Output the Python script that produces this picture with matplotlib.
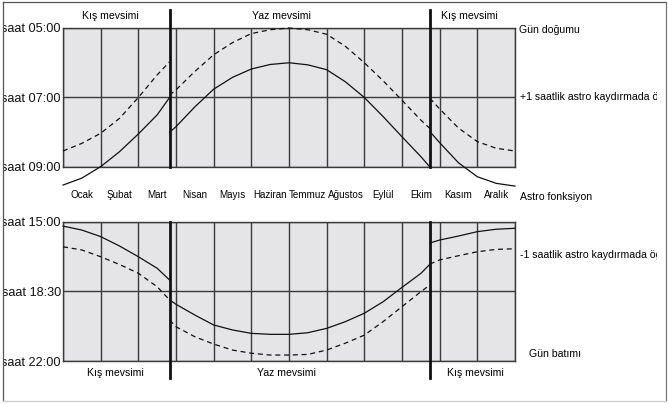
import numpy as np
import matplotlib
matplotlib.use('Agg')
import matplotlib.pyplot as plt
from matplotlib.lines import Line2D
from matplotlib.transforms import Bbox, TransformedBbox

plt.rcParams['font.family'] = ['Liberation Sans', 'DejaVu Sans']

# Aylar ve mevsim sinirlari (ay birimi: 0 = 1 Ocak, 12 = 31 Aralik)
months = ['Ocak', 'Şubat', 'Mart', 'Nisan', 'Mayıs', 'Haziran', 'Temmuz',
          'Ağustos', 'Eylül', 'Ekim', 'Kasım', 'Aralık']
season_edges = [2.83, 9.74]

x_winter1 = [0, 0.5, 1, 1.5, 2, 2.5, 2.83]
x_summer = [2.83, 3, 3.5, 4, 4.5, 5, 5.5, 6, 6.5, 7, 7.5, 8, 8.5, 9, 9.5, 9.74]
x_winter2 = [9.74, 10, 10.5, 11, 11.5, 12]

# Gun dogumu (saat), duz cizgi: astro fonksiyon, kesikli: +1 saat kaydirma
sunrise_astro_w1 = [9.52, 9.32, 8.99, 8.56, 8.05, 7.50, 7.0]
sunrise_astro_s = [8.0, 7.84, 7.27, 6.76, 6.42, 6.18, 6.05, 6.0, 6.06, 6.2,
                   6.55, 7.0, 7.55, 8.13, 8.7, 9.0]
sunrise_astro_w2 = [7.98, 8.3, 8.88, 9.28, 9.47, 9.55]
sunrise_shift_w1 = [8.54, 8.32, 8.03, 7.60, 7.0, 6.35, 5.97]
sunrise_shift_s = [6.93, 6.78, 6.25, 5.77, 5.42, 5.16, 5.05, 5.0, 5.05, 5.18,
                   5.53, 6.0, 6.52, 7.08, 7.65, 7.89]
sunrise_shift_w2 = [7.02, 7.33, 7.88, 8.27, 8.46, 8.54]

# Gun batimi (saat), duz cizgi: astro fonksiyon, kesikli: -1 saat kaydirma
sunset_astro_w1 = [15.22, 15.42, 15.75, 16.22, 16.76, 17.34, 17.93]
sunset_astro_s = [18.93, 19.15, 19.69, 20.19, 20.44, 20.61, 20.66, 20.66,
                  20.58, 20.36, 20.02, 19.6, 19.02, 18.3, 17.6, 17.14]
sunset_astro_w2 = [16.07, 15.92, 15.72, 15.5, 15.38, 15.33]
sunset_shift_w1 = [16.26, 16.42, 16.76, 17.15, 17.59, 18.27, 18.93]
sunset_shift_s = [19.94, 20.28, 20.78, 21.15, 21.45, 21.61, 21.7, 21.7,
                  21.67, 21.45, 21.1, 20.7, 20.02, 19.27, 18.52, 18.18]
sunset_shift_w2 = [17.13, 16.92, 16.71, 16.51, 16.39, 16.36]

top_ticks = [5, 7, 9]
top_labels = ['saat 05:00', 'saat 07:00', 'saat 09:00']
bottom_ticks = [15, 18.5, 22]
bottom_labels = ['saat 15:00', 'saat 18:30', 'saat 22:00']

W, H = 668, 404
fig = plt.figure(figsize=(W / 100, H / 100), dpi=100)
fig.patch.set_facecolor('white')

# sag ve sol kenarda yazilar kesiliyor (orijinaldeki gibi)
clip = TransformedBbox(Bbox([[3 / W, 0], [657 / W, 1]]), fig.transFigure)

ax1 = fig.add_axes([63 / W, 1 - 167 / H, 452 / W, 139 / H])
ax2 = fig.add_axes([63 / W, 1 - 361 / H, 452 / W, 139.3 / H])

grid_c = '#3a3a3a'
line_c = '#111111'
for ax in (ax1, ax2):
    ax.set_facecolor('#e5e5e7')
    ax.set_xlim(0, 12)
    ax.set_xticks(np.arange(0, 13))
    ax.set_xticklabels([])
    ax.tick_params(length=0, labelsize=9.2, pad=1.5, colors='#111')
    ax.grid(True, color=grid_c, lw=1.0)
    ax.set_axisbelow(True)
    for s in ax.spines.values():
        s.set_color(grid_c)
        s.set_linewidth(1.0)

ax1.set_ylim(9, 5)
ax1.set_yticks(top_ticks)
ax1.set_yticklabels(top_labels)
ax2.set_ylim(22, 15)
ax2.set_yticks(bottom_ticks)
ax2.set_yticklabels(bottom_labels)

# ay isimleri ust panelin altinda
ax1.set_xticks(np.arange(12) + 0.5, minor=True)
ax1.set_xticklabels(months, minor=True)
ax1.tick_params(axis='x', which='minor', length=0, pad=16.5, labelsize=7.1)

segments = [
    (ax1, x_winter1, sunrise_astro_w1, sunrise_shift_w1),
    (ax1, x_summer, sunrise_astro_s, sunrise_shift_s),
    (ax1, x_winter2, sunrise_astro_w2, sunrise_shift_w2),
    (ax2, x_winter1, sunset_astro_w1, sunset_shift_w1),
    (ax2, x_summer, sunset_astro_s, sunset_shift_s),
    (ax2, x_winter2, sunset_astro_w2, sunset_shift_w2),
]
for ax, xs, ya, yb in segments:
    ax.plot(xs, ya, color=line_c, lw=0.9, clip_on=False, zorder=4)
    ax.plot(xs, yb, color=line_c, lw=0.9, ls=(0, (4, 3)), clip_on=False, zorder=4)

# mevsim sinirlari
for d in season_edges:
    ax1.plot([d, d], [4.48, 9], color='#111', lw=2.0, clip_on=False, zorder=5)
    ax2.plot([d, d], [15, 22.85], color='#111', lw=2.0, clip_on=False, zorder=5)

fs = 7.6
ax1.text(1.25, 4.65, 'Kış mevsimi', ha='center', va='center', fontsize=fs)
ax1.text(5.79, 4.65, 'Yaz mevsimi', ha='center', va='center', fontsize=fs)
ax1.text(10.8, 4.65, 'Kış mevsimi', ha='center', va='center', fontsize=fs)
ax2.text(1.38, 22.6, 'Kış mevsimi', ha='center', va='center', fontsize=fs)
ax2.text(5.92, 22.6, 'Yaz mevsimi', ha='center', va='center', fontsize=fs)
ax2.text(10.94, 22.6, 'Kış mevsimi', ha='center', va='center', fontsize=fs)

right_texts = [
    ax1.text(12.1, 5.06, 'Gün doğumu', va='center', fontsize=fs),
    ax1.text(12.12, 7.0, '+1 saatlik astro kaydırmada öğle', va='center', fontsize=fs),
    ax1.text(12.12, 9.86, 'Astro fonksiyon', va='center', fontsize=fs),
    ax2.text(12.12, 16.67, '-1 saatlik astro kaydırmada öğle', va='center', fontsize=fs),
    ax2.text(12.37, 21.65, 'Gün batımı', va='center', fontsize=fs),
]
for t in right_texts:
    t.set_clip_on(True)
    t.set_clip_box(clip)

for ax in (ax1, ax2):
    for lab in ax.get_yticklabels():
        lab.set_clip_on(True)
        lab.set_clip_box(clip)

# cerceve
fig.add_artist(Line2D([2.5 / W, 2.5 / W], [1 - 401 / H, 1 - 1.5 / H], color='#555', lw=0.9))
fig.add_artist(Line2D([2.5 / W, 666 / W], [1 - 1.5 / H, 1 - 1.5 / H], color='#555', lw=0.9))
fig.add_artist(Line2D([666 / W, 666 / W], [1 - 401 / H, 1 - 1.5 / H], color='#777', lw=0.9))
fig.add_artist(Line2D([2.5 / W, 666 / W], [1 - 401 / H, 1 - 401 / H], color='#ccc', lw=0.9))

fig.savefig('out.png', dpi=100)
